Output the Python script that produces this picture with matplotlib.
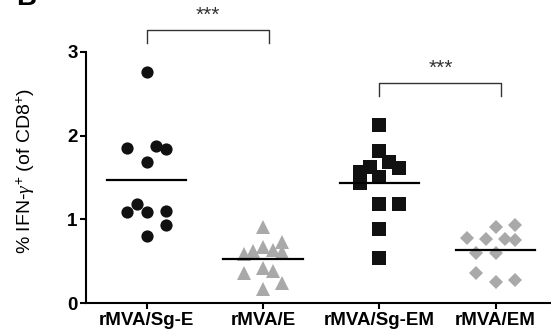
import matplotlib
matplotlib.use("Agg")
import matplotlib.pyplot as plt
import numpy as np

plt.rcParams["font.family"] = ["Liberation Sans", "DejaVu Sans"]
plt.rcParams["mathtext.fontset"] = "custom"
plt.rcParams["mathtext.rm"] = "Liberation Sans"
plt.rcParams["mathtext.it"] = "Liberation Serif:italic"

# data
groups = ["rMVA/Sg-E", "rMVA/E", "rMVA/Sg-EM", "rMVA/EM"]
sg_e = [2.76, 1.855, 1.88, 1.84, 1.69, 1.18, 1.09, 1.085, 1.10, 0.93, 0.80]
e = [0.905, 0.587, 0.627, 0.675, 0.635, 0.735, 0.615, 0.365, 0.425, 0.39, 0.245, 0.17]
sg_em = [2.13, 1.82, 1.68, 1.61, 1.63, 1.56, 1.44, 1.51, 1.19, 1.19, 0.885, 0.536]
em = [0.775, 0.767, 0.913, 0.933, 0.763, 0.755, 0.596, 0.603, 0.365, 0.257, 0.278]

# column slots of the scatter (dot plot spreading)
slots_sg_e = [0, -2, 1, 2, 0, -1, -2, 0, 2, 2, 0]
slots_e = [0, -2, -1, 0, 1, 2, 2, -2, 0, 1, 2, 0]
slots_sg_em = [0, 0, 1, 2, -1, -2, -2, 0, 0, 2, 0, 0]
slots_em = [-3, -1, 0, 2, 1, 2, -2, 0, -2, 0, 2]

# significance brackets: (left group, right group, label)
comparisons = [(0, 1, "***"), (2, 3, "***")]

series = [sg_e, e, sg_em, em]
slots = [slots_sg_e, slots_e, slots_sg_em, slots_em]
markers = ["o", "^", "s", "D"]
sizes = [8.8, 9.6, 9.4, 7.6]
colors = ["#111111", "#a9a9a9", "#111111", "#a9a9a9"]
step = 0.083

fig = plt.figure(figsize=(5.51, 3.34), dpi=100)
ax = fig.add_axes([0.156, 0.092, 0.844, 0.753])

for i, (vals, sl) in enumerate(zip(series, slots)):
    x = i + np.array(sl) * step
    ax.plot(x, vals, linestyle="none", marker=markers[i], ms=sizes[i],
            color=colors[i], markeredgewidth=0, zorder=3)
    ax.plot([i - 0.34, i + 0.34], [np.mean(vals)] * 2, color="black",
            lw=1.6, zorder=4)

ax.set_xlim(-0.522, 3.476)
ax.set_ylim(0, 3)
ax.set_yticks([0, 1, 2, 3])
ax.set_xticks(range(len(groups)))
ax.set_xticklabels(groups)
for lab in ax.get_xticklabels() + ax.get_yticklabels():
    lab.set_fontweight("bold")
    lab.set_fontsize(13.5)

for s in ["top", "right"]:
    ax.spines[s].set_visible(False)
for s in ["left", "bottom"]:
    ax.spines[s].set_linewidth(1.5)
ax.tick_params(width=1.5, length=4.5, pad=1.5)

fig.text(0.046, 0.488, r"% IFN-$\gamma^{+}$ (of CD8$^{+}$)", fontsize=14,
         rotation=90, ha="center", va="center")

# brackets
heights = [(3.257, 3.106, 3.43), (2.622, 2.474, 2.80)]
for (a, b, txt), (top, foot, ty) in zip(comparisons, heights):
    xa, xb = a + 0.0, b + 0.05
    ax.plot([xa, xa, xb, xb], [foot, top, top, foot], color="#333333",
            lw=1.0, clip_on=False)
    ax.text((xa + xb) / 2, ty, txt, ha="center", va="center", fontsize=15,
            color="#333333", clip_on=False)

fig.text(0.03, 0.985, "B", fontsize=20, fontweight="bold", va="baseline")

fig.savefig("out.png", dpi=100)
